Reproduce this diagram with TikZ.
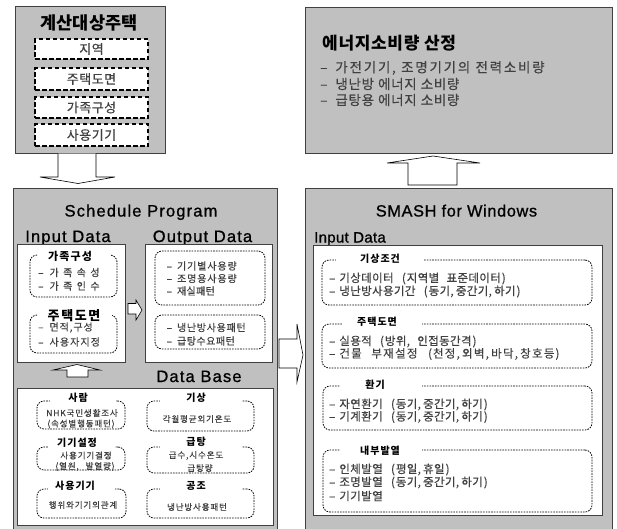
\documentclass[tikz,border=0pt]{standalone}
\usepackage{fontspec}
\setmainfont{Noto Sans CJK KR}
\newfontfamily\kr{Noto Sans CJK KR}
\newfontfamily\krr{Noto Sans CJK KR}[WordSpace=2.5, FakeBold=0.4]
\newfontfamily\kre{Noto Sans CJK KR}[WordSpace=1.1, FakeBold=0.4]
\newfontfamily\lat{Liberation Sans}[FakeBold=0.9]
\usetikzlibrary{fit}
\newcommand\fs[1]{\fontsize{#1}{#1}\selectfont}
\newcommand\lsp[1]{\addfontfeature{LetterSpace=#1}}
% dash, gap, letter spacing, text
\newcommand\itm[3]{–\hspace{#1}{\lsp{#2}#3}}
\newcommand\Cm{,\kern2.2pt}
\newcommand\Lp{\kern1pt(\kern1pt}
\newcommand\Rp{\kern1pt)}
\definecolor{panelgray}{HTML}{C0C0C0}
\definecolor{edge}{HTML}{404040}
\definecolor{txt}{HTML}{404040}
\tikzset{
  panel/.style={draw=edge, line width=1pt, fill=panelgray, inner sep=0pt},
  wbox/.style={draw=edge, line width=0.8pt, fill=white, inner sep=0pt},
  dbox/.style={draw=black, line width=1.8pt, dash pattern=on 4.5pt off 2.5pt, fill=white, inner sep=0pt},
  rbox/.style={draw=black, line width=0.8pt, dash pattern=on 1.6pt off 1.1pt, rounded corners=7pt, fill=white, inner sep=0pt},
  barrow/.style={draw=black, fill=white, line width=0.6pt},
  lbl/.style={inner sep=0pt},
  bigtitle/.style={lbl, font=\kr\bfseries\fs{17.5}},
  tlitem/.style={lbl, text=txt, font=\krr\fs{13}\lsp{4}},
  latin/.style={lbl, anchor=base, font=\lat\fs{16.5}\lsp{7}},
  sectitle/.style={lbl, font=\kr\bfseries\fs{11}\lsp{10}},
  item/.style={lbl, anchor=west, text=txt, font=\krr\fs{10}},
  dbtitle/.style={lbl, font=\kr\bfseries\fs{10}\lsp{10}},
  dbitem/.style={lbl, text=txt, font=\krr\fs{8.5}\lsp{10}},
  ritem/.style={lbl, anchor=west, text=txt, font=\krr\fs{11.5}\lsp{3}},
  rtitle/.style={lbl, font=\kr\bfseries\fs{10}\lsp{10}},
  eitem/.style={lbl, anchor=west, text=txt, font=\kre\fs{13.5}},
}
\begin{document}
\begin{tikzpicture}[x=1pt,y=-1pt]
\useasboundingbox (0,0) rectangle (617,528);
\clip (0,0) rectangle (617,528);

% ---------- top left: 계산대상주택 ----------
\node[panel, fit={(15,6) (165,153)}] (house) {};
\node[bigtitle] (houseT) at (89,23) {계산대상주택};
\node[dbox, fit={(35,39) (148,59)}] (h1) {};
\node[tlitem] at (h1) {지역};
\node[dbox, fit={(35,68) (148,90)}] (h2) {};
\node[tlitem] at (h2) {주택도면};
\node[dbox, fit={(35,97) (148,118)}] (h3) {};
\node[tlitem] at (h3) {가족구성};
\node[dbox, fit={(35,124) (148,146)}] (h4) {};
\node[tlitem] at (h4) {사용기기};

% ---------- top right: 에너지소비량 산정 ----------
\node[panel, fit={(305,7) (612,153)}] (energy) {};
\node[lbl, anchor=west, font=\kr\bfseries\fs{17}\lsp{4}] (energyT) at (322,43) {에너지소비량 산정};
\node[eitem] (e1) at (320,68) {\itm{8pt}{13}{가전기기, 조명기기의 전력소비량}};
\node[eitem] (e2) at (320,84) {\itm{8pt}{5}{냉난방 에너지 소비량}};
\node[eitem] (e3) at (320,100) {\itm{8pt}{5}{급탕용 에너지 소비량}};

% ---------- left: Schedule Program ----------
\node[panel, fit={(13,188) (277,540)}] (sched) {};
\node[latin] (schedT) at (141,216.5) {Schedule Program};
\node[latin] (inT) at (68,242) {Input Data};
\node[latin] (outT) at (202.5,242) {Output Data};

\node[wbox, fit={(17,244) (125,362)}] (inbox) {};
\node[wbox, fit={(145,244) (272,362)}] (outbox) {};

\node[rbox, fit={(30,255) (117,297)}] (fam) {};
\fill[white] (38,252) rectangle (110,258);
\node[sectitle] (famT) at (70,256) {가족구성};
\node[item] at (38,272.5) {\itm{6pt}{44}{가족속성}};
\node[item] at (38,286) {\itm{6pt}{44}{가족인수}};

\node[rbox, fit={(30,315) (117,353)}] (plan) {};
\fill[white] (38,312) rectangle (112,318);
\node[sectitle, font=\kr\bfseries\fs{13}\lsp{12}] (planT) at (74,316) {주택도면};
\node[item] at (38,327.5) {\itm{6pt}{9}{면적,구성}};
\node[item] at (38,342) {\itm{6pt}{11}{사용자지정}};

\node[rbox, fit={(155,251) (265,305)}] (o1) {};
\node[item] at (166.5,266) {\itm{5pt}{9}{기기별사용량}};
\node[item] at (166.5,278.5) {\itm{5pt}{9}{조명용사용량}};
\node[item] at (166.5,291) {\itm{5pt}{3}{재실패턴}};
\node[rbox, fit={(155,315) (265,349)}] (o2) {};
\node[item] at (166.5,327.5) {\itm{5pt}{7}{냉난방사용패턴}};
\node[item] at (166.5,341) {\itm{5pt}{5}{급탕수요패턴}};

% Data Base
\node[latin] (dbT) at (199,382) {Data Base};
\node[wbox, fit={(17,388) (273,525)}] (db) {};

\node[rbox, fit={(37,401) (125,429)}] (c1) {};
\fill[white] (50,398) rectangle (116,404);
\node[dbtitle] at (78,398) {사람};
\node[dbitem] at (82,413) {NHK국민생활조사};
\node[dbitem] at (81,424) {(속성별행동패턴)};

\node[rbox, fit={(147,401) (254,431)}] (c2) {};
\fill[white] (160,398) rectangle (242,404);
\node[dbtitle] at (196,398) {기상};
\node[dbitem] at (197,419) {각월평균외기온도};

\node[rbox, fit={(37,447) (125,470)}] (c3) {};
\fill[white] (48,444) rectangle (115,450);
\node[dbtitle] at (77,443) {기기설정};
\node[dbitem] at (86,455.5) {사용기기결정};
\node[dbitem] at (85,466.5) {(열원, 발열량)};

\node[rbox, fit={(147,447) (254,473)}] (c4) {};
\fill[white] (160,444) rectangle (242,450);
\node[dbtitle] at (196,442) {급탕};
\node[dbitem] at (196,455.5) {급수,시수온도};
\node[dbitem] at (200,468) {급탕량};

\node[rbox, fit={(37,489) (126,518)}] (c5) {};
\fill[white] (48,486) rectangle (115,492);
\node[dbtitle] at (75,486) {사용기기};
\node[dbitem] at (83,505) {행위와기기의관계};

\node[rbox, fit={(147,489) (254,518)}] (c6) {};
\fill[white] (160,486) rectangle (242,492);
\node[dbtitle] at (196,485.5) {공조};
\node[dbitem] at (197,507) {냉난방사용패턴};

% ---------- right: SMASH for Windows ----------
\node[panel, fit={(305,188) (612,540)}] (smash) {};
\node[latin, font=\lat\fs{16.3}\lsp{4}] (smashT) at (456.5,216.5) {SMASH for Windows};
\node[latin, anchor=base west, font=\lat\fs{15}\lsp{2}] (sinT) at (314,242.5) {Input Data};
\node[wbox, fit={(313,245) (602,515)}] (sin) {};

\node[rbox, fit={(322,260) (592,305)}] (r1) {};
\fill[white] (336,257) rectangle (424,263);
\node[rtitle] at (380,259) {기상조건};
\node[ritem] at (329,278.5) {\itm{4pt}{3}{기상데이터 \Lp 지역별 표준데이터\Rp}};
\node[ritem] at (329,291.5) {\itm{4pt}{3}{냉난방사용기간 \Lp 동기\Cm 중간기\Cm 하기\Rp}};

\node[rbox, fit={(322,324) (592,368)}] (r2) {};
\fill[white] (342,321) rectangle (422,327);
\node[rtitle] at (377,322) {주택도면};
\node[ritem] at (329,341.5) {\itm{4pt}{3}{실용적 \Lp 방위, 인접동간격\Rp}};
\node[ritem] at (329,354) {\itm{4pt}{11}{건물 부재설정 \Lp 천정\Cm 외벽\Cm 바닥\Cm 창호등\Rp}};

\node[rbox, fit={(323,386) (592,430)}] (r3) {};
\fill[white] (340,383) rectangle (422,389);
\node[rtitle] at (375,385) {환기};
\node[ritem] at (329,404.5) {\itm{4pt}{3}{자연환기 \Lp 동기\Cm 중간기\Cm 하기\Rp}};
\node[ritem] at (329,417) {\itm{4pt}{3}{기계환기 \Lp 동기\Cm 중간기\Cm 하기\Rp}};

\node[rbox, fit={(323,450) (592,512)}] (r4) {};
\fill[white] (340,447) rectangle (422,453);
\node[rtitle] at (380,451) {내부발열};
\node[ritem] at (329,469.5) {\itm{4pt}{3}{인체발열 \Lp 평일\Cm 휴일\Rp}};
\node[ritem] at (329,482.5) {\itm{4pt}{3}{조명발열 \Lp 동기\Cm 중간기\Cm 하기\Rp}};
\node[ritem] at (329,496) {\itm{4pt}{3}{기기발열}};

% ---------- block arrows ----------
\draw[barrow] (58,153.5) -- (58,177) -- (40,177) -- (78,183.5) -- (115,177) -- (96,177) -- (96,153.5);
\draw[barrow] (408,185) -- (408,163) -- (387,163) -- (433,156) -- (480,163) -- (457,163) -- (457,185) -- cycle;
\draw[barrow] (128,303.5) -- (136,303.5) -- (136,300) -- (142,310) -- (136,320) -- (136,314) -- (128,314) -- cycle;
\draw[barrow] (67,377) -- (67,370) -- (53,370) -- (77,364.5) -- (100,370) -- (88,370) -- (88,377) -- cycle;
\draw[barrow] (279,339) -- (297,339) -- (297,324) -- (303,355) -- (297,382) -- (297,368) -- (279,368) -- cycle;
\end{tikzpicture}
\end{document}
